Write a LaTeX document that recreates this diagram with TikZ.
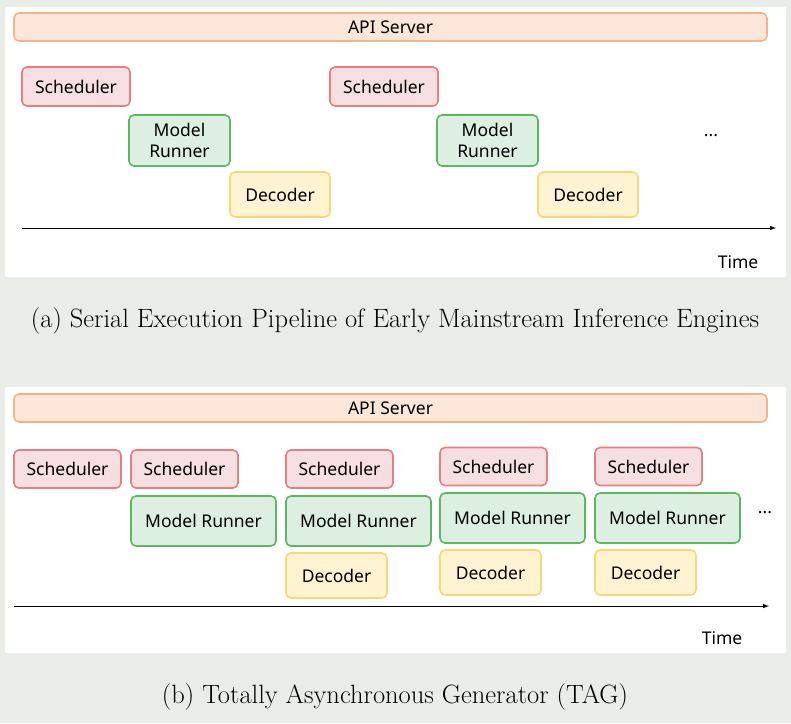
\documentclass[tikz,border=0pt]{standalone}
\usepackage{fontspec}
\setsansfont{Noto Sans}
\begin{document}
\begin{tikzpicture}[x=1pt,y=-1pt,
  bx/.style={rounded corners=5pt,line width=1.6pt,font=\sffamily\fontsize{17.5}{21}\selectfont,align=center,inner sep=0pt},
  sch/.style={bx,draw=schD,fill=schF},
  mr/.style={bx,draw=mrD,fill=mrF},
  dec/.style={bx,draw=decD,fill=decF},
  api/.style={bx,draw=apiD,fill=apiF},
  panel/.style={fill=white,draw=none,rounded corners=2pt},
  captxt/.style={font=\fontsize{26.5}{30}\selectfont},
  lbl/.style={font=\sffamily\fontsize{17.5}{21}\selectfont}]
\definecolor{bg}{HTML}{E9ECE7}
\definecolor{schD}{HTML}{E87E7E}\definecolor{schF}{HTML}{F6DFE1}
\definecolor{mrD}{HTML}{5CB860}\definecolor{mrF}{HTML}{DDEFE1}
\definecolor{decD}{HTML}{F6D977}\definecolor{decF}{HTML}{FFF3D2}
\definecolor{apiD}{HTML}{F2B48A}\definecolor{apiF}{HTML}{FCE5D9}
\fill[bg] (0,0) rectangle (791,723);
\useasboundingbox (0,0) rectangle (791,723);
\fill[panel] (5,7) rectangle (786,277);
\fill[panel] (5,387) rectangle (786,653);
% (a)
\node[api] (apiA) at (390.5,27) [minimum width=753pt,minimum height=28pt] {API Server};
\node[sch,minimum width=108pt,minimum height=39pt] (s1) at (76,86.5) {Scheduler};
\node[mr,minimum width=101pt,minimum height=51pt] (m1) at (179.5,140.5) {Model\\Runner};
\node[dec,minimum width=100pt,minimum height=45pt] (d1) at (280,194.5) {Decoder};
\node[sch,minimum width=108pt,minimum height=39pt] (s2) at (384,86.5) {Scheduler};
\node[mr,minimum width=101pt,minimum height=51pt] (m2) at (487.5,140.5) {Model\\Runner};
\node[dec,minimum width=100pt,minimum height=45pt] (d2) at (588,194.5) {Decoder};
\node[lbl] (dotsA) at (711,136) {...};
\coordinate (ta0) at (22,228); \coordinate (ta1) at (776,228);
\draw[-latex,line width=1pt] (ta0) -- (ta1);
\node[lbl] (timeA) at (738,262) {Time};
\node[captxt] (capA) at (395,321) {(a) Serial Execution Pipeline of Early Mainstream Inference Engines};
% (b)
\node[api] (apiB) at (390.5,408) [minimum width=753pt,minimum height=28pt] {API Server};
\node[sch,minimum width=107pt,minimum height=38pt] (b1) at (67.5,469) {Scheduler};
\node[sch,minimum width=107pt,minimum height=38pt] (b2) at (184.5,469) {Scheduler};
\node[sch,minimum width=107pt,minimum height=38pt] (b3) at (339.5,469) {Scheduler};
\node[sch,minimum width=107pt,minimum height=38pt] (b4) at (493.5,466.5) {Scheduler};
\node[sch,minimum width=107pt,minimum height=38pt] (b5) at (648.5,466.5) {Scheduler};
\node[mr,minimum width=145pt,minimum height=50pt] (n2) at (203.5,521) {Model Runner};
\node[mr,minimum width=145pt,minimum height=50pt] (n3) at (358.5,521) {Model Runner};
\node[mr,minimum width=145pt,minimum height=50pt] (n4) at (512.5,518) {Model Runner};
\node[mr,minimum width=145pt,minimum height=50pt] (n5) at (667.5,518) {Model Runner};
\node[dec,minimum width=101pt,minimum height=45pt] (e3) at (336.5,575.5) {Decoder};
\node[dec,minimum width=101pt,minimum height=45pt] (e4) at (490.5,572.5) {Decoder};
\node[dec,minimum width=101pt,minimum height=45pt] (e5) at (645.5,572.5) {Decoder};
\node[lbl] (dotsB) at (765,513) {...};
\coordinate (tb0) at (14,606); \coordinate (tb1) at (769,606);
\draw[-latex,line width=1pt] (tb0) -- (tb1);
\node[lbl] (timeB) at (722,638) {Time};
\node[captxt] (capB) at (395,697) {(b) Totally Asynchronous Generator (TAG)};
\end{tikzpicture}
\end{document}
